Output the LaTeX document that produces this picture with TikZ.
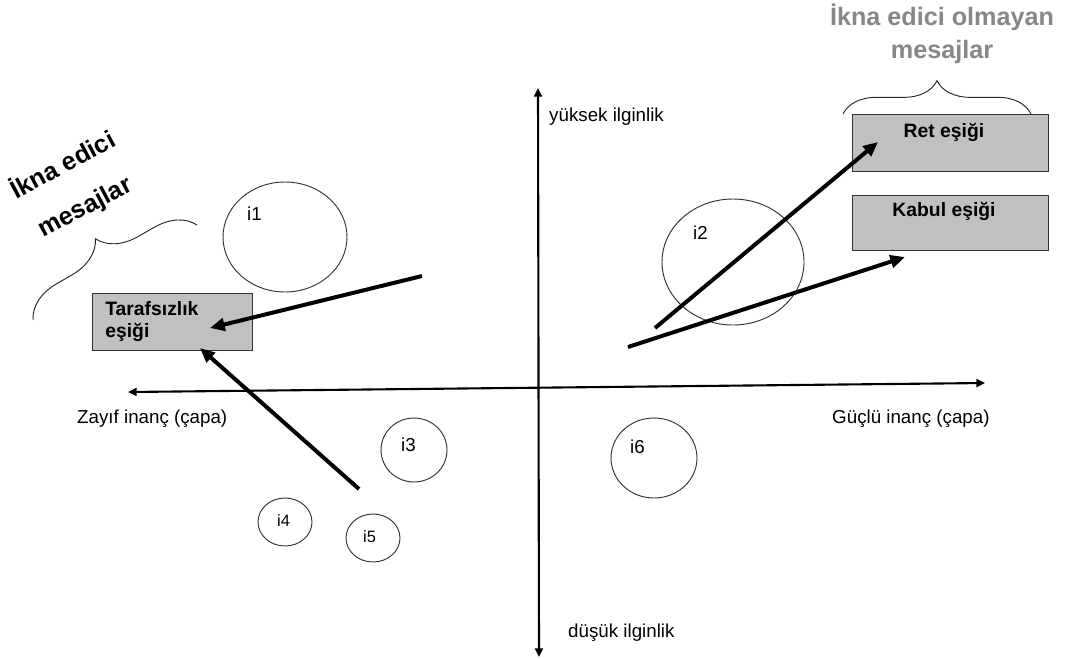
\documentclass[tikz,border=0pt]{standalone}
\usepackage{fontspec}
\setmainfont{Liberation Sans}
\usetikzlibrary{arrows.meta,positioning,calc,decorations.pathreplacing}
\definecolor{boxgray}{HTML}{C0C0C0}
\definecolor{capgray}{HTML}{878787}

\begin{document}
\begin{tikzpicture}[x=0.03cm,y=-0.03cm,
    axisline/.style={line width=1.8pt,{Triangle[length=0.26cm,width=0.24cm]}-{Triangle[length=0.26cm,width=0.24cm]}},
    shiftarrow/.style={line width=3.4pt,-{Triangle[length=0.44cm,width=0.38cm]}},
    zone/.style={draw=black!80,line width=0.8pt},
    threshold/.style={draw=black!80,line width=0.8pt,fill=boxgray,rectangle,inner sep=0pt},
    axislabel/.style={inner sep=0pt,font=\fontsize{16}{19}\selectfont},
    zonelabel/.style={inner sep=0pt,font=\fontsize{16}{19}\selectfont},
    threshlabel/.style={inner sep=0pt,font=\fontsize{16.5}{19}\selectfont\bfseries},
    caption/.style={inner sep=0pt,align=center,font=\fontsize{21.5}{28}\selectfont\bfseries},
    bracket/.style={decorate,line width=0.8pt,draw=black!85}]
  \useasboundingbox (0,0) rectangle (1069,658);

  % axes
  \coordinate (ytop) at (538,88);
  \coordinate (ybot) at (539,657);
  \coordinate (xleft) at (128,392);
  \coordinate (xright) at (985,383);
  \draw[axisline] (ybot) -- (ytop);
  \draw[axisline] (xleft) -- (xright);
  \node[axislabel,anchor=base west] (high) at (549,121) {yüksek ilginlik};
  \node[axislabel,anchor=base west] (low) at (568,637) {düşük ilginlik};
  \node[axislabel,anchor=base west] (weak) at (77,423) {Zayıf inanç (çapa)};
  \node[axislabel,anchor=base west] (strong) at (832,423) {Güçlü inanç (çapa)};

  % attitude zones
  \draw[zone] (285,237) ellipse (62 and 55);
  \draw[zone] (733,262) ellipse (71 and 63);
  \draw[zone] (414,450) ellipse (33 and 32);
  \draw[zone] (285,522) ellipse (27 and 24);
  \draw[zone] (373,538) ellipse (27 and 24);
  \draw[zone] (654,458) ellipse (43 and 40);
  \node[zonelabel,anchor=base west] (z1) at (247,220) {i1};
  \node[zonelabel,anchor=base west] (z2) at (693,239) {i2};
  \node[zonelabel,anchor=base west] (z3) at (401,451) {i3};
  \node[zonelabel,anchor=base west,font=\fontsize{14}{17}\selectfont] (z4) at (277,526) {i4};
  \node[zonelabel,anchor=base west,font=\fontsize{14}{17}\selectfont] (z5) at (363,542) {i5};
  \node[zonelabel,anchor=base west] (z6) at (630,453) {i6};

  % thresholds
  \node[threshold,inner xsep=0.39cm,minimum width=4.8cm,minimum height=1.71cm,text width=4.0cm,align=left,
    font=\fontsize{16.5}{19}\selectfont\bfseries] (neutral) at (172,321.5) {Tarafsızlık\\eşiği};
  \node[threshold,minimum width=5.88cm,minimum height=1.71cm] (reject) at (950,142.5) {};
  \node[threshold,minimum width=5.88cm,minimum height=1.65cm] (accept) at (950,222.5) {};
  \node[threshlabel,anchor=base] (rejecttxt) at (944,137) {Ret eşiği};
  \node[threshlabel,anchor=base] (accepttxt) at (944,216) {Kabul eşiği};

  % message groups
  \node[caption,text=capgray] (nonpersuasive) at (942,34) {İkna edici olmayan\\mesajlar};
  \node[caption,rotate=28] (persuasive) at (74,186)
    {İkna edici\\[12pt]mesajlar};
  \coordinate (bl1) at (33,320);
  \coordinate (bl2) at (197,225);
  \coordinate (br1) at (843,114);
  \coordinate (br2) at (1031,114);
  \draw[bracket,decoration={brace,amplitude=1.17cm}] (bl1) -- (bl2);
  \draw[bracket,decoration={brace,amplitude=1.0cm}] (br1) -- (br2);

  % shifts
  \coordinate (s1) at (422,276);
  \coordinate (e1) at (210,328);
  \coordinate (s2) at (359,489);
  \coordinate (e2) at (200,348);
  \coordinate (s3) at (655,328);
  \coordinate (e3) at (878,142);
  \coordinate (s4) at (628,347);
  \coordinate (e4) at (905,257);
  \draw[shiftarrow] (s1) -- (e1);
  \draw[shiftarrow] (s2) -- (e2);
  \draw[shiftarrow] (s3) -- (e3);
  \draw[shiftarrow] (s4) -- (e4);
\end{tikzpicture}
\end{document}
